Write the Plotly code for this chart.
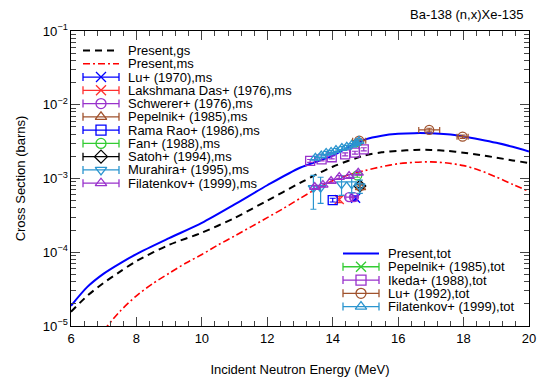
import plotly.graph_objects as go

# ---------------- evaluated curves ----------------
E_tot = [6, 6.5, 7, 7.5, 8, 9, 10, 11, 12, 13, 14, 14.5, 15, 15.5, 16, 16.5, 17, 17.5, 18, 18.5, 19, 19.5, 20]
S_tot = [1.88e-5, 3.39e-5, 5.13e-5, 7.08e-5, 9.44e-5, 1.55e-4, 2.50e-4, 4.45e-4, 8.10e-4, 1.40e-3, 2.04e-3,
         2.69e-3, 3.39e-3, 3.80e-3, 4.03e-3, 4.12e-3, 4.10e-3, 3.98e-3, 3.72e-3, 3.39e-3, 3.05e-3, 2.69e-3, 2.32e-3]

E_gs = [6, 6.5, 7, 7.5, 8, 9, 10, 11, 12, 13, 14, 15, 15.5, 16, 16.5, 17, 17.5, 18, 18.5, 19, 19.5, 20]
S_gs = [1.56e-5, 2.57e-5, 3.85e-5, 5.45e-5, 7.59e-5, 1.26e-4, 1.84e-4, 2.92e-4, 5.01e-4, 8.71e-4, 1.445e-3,
        2.065e-3, 2.265e-3, 2.37e-3, 2.44e-3, 2.44e-3, 2.37e-3, 2.24e-3, 2.09e-3, 1.92e-3, 1.76e-3, 1.62e-3]

E_ms = [7, 7.5, 8, 8.5, 9, 9.5, 10, 10.5, 11, 11.5, 12, 12.5, 13, 13.5, 14, 14.5, 15, 15.5, 16, 16.5, 17,
        17.5, 18, 18.5, 19, 19.5, 20]
S_ms = [8.71e-6, 1.585e-5, 2.57e-5, 3.76e-5, 5.19e-5, 7.08e-5, 9.33e-5, 1.259e-4, 1.66e-4, 2.21e-4, 2.95e-4,
        3.94e-4, 5.37e-4, 7.24e-4, 9.33e-4, 1.122e-3, 1.288e-3, 1.445e-3, 1.585e-3, 1.66e-3, 1.68e-3,
        1.62e-3, 1.496e-3, 1.288e-3, 1.047e-3, 8.32e-4, 6.68e-4]

# ---------------- experimental data (metastable) ----------------
lu70_E = [14.7]
lu70_S = [5.4e-4]
lu70_dS = [4e-5]

lak_E = [14.2]
lak_S = [5.2e-4]
lak_dS = [5e-5]

sch_E = [14.5, 14.65]
sch_S = [5.6e-4, 5.6e-4]
sch_dE = [0.1, 0.1]

pep_ms_E = [14.85]
pep_ms_S = [7.6e-4]
pep_ms_dS = [6e-5]

rama_E = [14.0]
rama_S = [5.1e-4]
rama_dS = [3e-5]

fan_E = [14.75]
fan_S = [1.1e-3]
fan_dS = [6e-5]

satoh_E = [14.83]
satoh_S = [7.9e-4]
satoh_dS = [4e-5]

mura_E = [13.41, 13.63, 14.27, 14.58, 14.83]
mura_S = [7.43e-4, 7.5e-4, 8.4e-4, 8.4e-4, 7.9e-4]
mura_dS = [3.6e-4, 2.9e-4, 2.5e-4, 2.0e-4, 1.6e-4]

fil_ms_E = [13.45, 13.7, 13.95, 14.2, 14.5, 14.78]
fil_ms_S = [7.67e-4, 8.17e-4, 9.25e-4, 1.047e-3, 1.08e-3, 1.19e-3]
fil_ms_dS = [4e-5, 4e-5, 5e-5, 5e-5, 5e-5, 6e-5]

# ---------------- experimental data (total) ----------------
pep_tot_E = [14.7]
pep_tot_S = [2.9e-3]
pep_tot_dS = [1.5e-4]

ike_E = [13.31, 13.66, 13.97, 14.38, 14.68, 14.95]
ike_S = [1.73e-3, 1.82e-3, 1.94e-3, 2.13e-3, 2.24e-3, 2.49e-3]
ike_dS = [8e-5, 9e-5, 9e-5, 1e-4, 1e-4, 1.2e-4]

lu92_E = [14.81, 16.95, 17.97]
lu92_S = [3.26e-3, 4.55e-3, 3.69e-3]
lu92_dE = [0.2, 0.32, 0.17]
lu92_dS = [2e-4, 2.5e-4, 2e-4]

fil_tot_E = [13.47, 13.65, 13.8, 13.95, 14.1, 14.28, 14.43, 14.58, 14.71, 14.8]
fil_tot_S = [1.90e-3, 2.05e-3, 2.22e-3, 2.29e-3, 2.43e-3, 2.59e-3, 2.68e-3, 2.85e-3, 3.03e-3, 3.22e-3]
fil_tot_dS = [1e-4, 1e-4, 1.1e-4, 1.1e-4, 1.2e-4, 1.2e-4, 1.3e-4, 1.3e-4, 1.4e-4, 1.5e-4]

# ---------------- styles ----------------
BLUE = "#0000ff"
RED = "#ff0000"
RED2 = "#ff3030"
PURPLE = "#9932cc"
BROWN = "#a0522d"
GREEN = "#33cc33"
LBLUE = "#2b95cf"
BLACK = "#000000"

curves = [
    ("Present,gs", E_gs, S_gs, BLACK, "7px,5px", 2.0),
    ("Present,ms", E_ms, S_ms, RED, "7px,3px,2px,3px", 1.6),
    ("Present,tot", E_tot, S_tot, BLUE, "solid", 2.0),
]

exps = [
    ("Lu+ (1970),ms", lu70_E, lu70_S, None, lu70_dS, BLUE, "x-thin"),
    ("Lakshmana Das+ (1976),ms", lak_E, lak_S, None, lak_dS, RED2, "x-thin"),
    ("Schwerer+ (1976),ms", sch_E, sch_S, sch_dE, None, PURPLE, "circle-open"),
    ("Pepelnik+ (1985),ms", pep_ms_E, pep_ms_S, None, pep_ms_dS, BROWN, "triangle-up-open"),
    ("Rama Rao+ (1986),ms", rama_E, rama_S, None, rama_dS, BLUE, "square-open"),
    ("Fan+ (1988),ms", fan_E, fan_S, None, fan_dS, GREEN, "circle-open"),
    ("Satoh+ (1994),ms", satoh_E, satoh_S, None, satoh_dS, BLACK, "diamond-open"),
    ("Murahira+ (1995),ms", mura_E, mura_S, None, mura_dS, LBLUE, "triangle-down-open"),
    ("Filatenkov+ (1999),ms", fil_ms_E, fil_ms_S, None, fil_ms_dS, PURPLE, "triangle-up-open"),
    ("Pepelnik+ (1985),tot", pep_tot_E, pep_tot_S, None, pep_tot_dS, GREEN, "x-thin"),
    ("Ikeda+ (1988),tot", ike_E, ike_S, None, ike_dS, PURPLE, "square-open"),
    ("Lu+ (1992),tot", lu92_E, lu92_S, lu92_dE, lu92_dS, BROWN, "circle-open"),
    ("Filatenkov+ (1999),tot", fil_tot_E, fil_tot_S, None, fil_tot_dS, LBLUE, "triangle-up-open"),
]

FONT = "Liberation Sans, Arial, sans-serif"
fig = go.Figure()

for name, ex, sy, col, dash, w in curves:
    fig.add_trace(go.Scatter(x=ex, y=sy, mode="lines", name=name, showlegend=False,
                             line=dict(color=col, dash=dash, width=w, shape="spline", smoothing=0.8)))

# draw Satoh first so that it sits underneath the other markers
order = [6] + [i for i in range(len(exps)) if i != 6]
for idx in order:
    name, ex, sy, dex, dsy, col, sym = exps[idx]
    kw = {}
    if dsy is not None:
        kw["error_y"] = dict(type="data", array=dsy, color=col, thickness=1.2, width=3)
    if dex is not None:
        kw["error_x"] = dict(type="data", array=dex, color=col, thickness=1.2, width=3)
    fig.add_trace(go.Scatter(x=ex, y=sy, mode="markers", name=name, showlegend=False,
                             marker=dict(symbol=sym, size=9, color=col, line=dict(color=col, width=1.3)),
                             **kw))

# ---------------- hand-drawn legends (figure pixel overlay axes) ----------------
L, R, T, B = 71, 529, 31, 326
annotations = []


def legend_entry(y, x0, name, col, sym=None, dash="solid", w=1.5):
    x1 = x0 + 36
    if sym is None:
        fig.add_trace(go.Scatter(x=[x0, x1], y=[y, y], mode="lines", xaxis="x2", yaxis="y2",
                                 showlegend=False, hoverinfo="skip",
                                 line=dict(color=col, dash=dash, width=w)))
    else:
        fig.add_trace(go.Scatter(x=[(x0 + x1) / 2], y=[y], mode="markers", xaxis="x2", yaxis="y2",
                                 showlegend=False, hoverinfo="skip",
                                 error_x=dict(type="constant", value=18, color=col, thickness=1.3, width=4),
                                 marker=dict(symbol=sym, size=10, color=col, line=dict(color=col, width=1.3))))
    annotations.append(dict(x=x1 + 8, y=y, xref="x2", yref="y2", text=name, showarrow=False,
                            xanchor="left", yanchor="middle", borderpad=0,
                            font=dict(size=13, family=FONT, color="black")))


curve_style = {c[0]: c for c in curves}
exp_style = {e[0]: e for e in exps}

leg1 = ["Present,gs", "Present,ms", "Lu+ (1970),ms", "Lakshmana Das+ (1976),ms", "Schwerer+ (1976),ms",
        "Pepelnik+ (1985),ms", "Rama Rao+ (1986),ms", "Fan+ (1988),ms", "Satoh+ (1994),ms",
        "Murahira+ (1995),ms", "Filatenkov+ (1999),ms"]
leg2 = ["Present,tot", "Pepelnik+ (1985),tot", "Ikeda+ (1988),tot", "Lu+ (1992),tot", "Filatenkov+ (1999),tot"]

for legend_names, x0, y0 in ((leg1, 83, 50.5), (leg2, 343, 253.5)):
    for i, nm in enumerate(legend_names):
        y = y0 + 13.27 * i
        if nm in curve_style:
            _, _, _, col, dash, w = curve_style[nm]
            legend_entry(y, x0, nm, col, None, dash, w)
        else:
            e = exp_style[nm]
            legend_entry(y, x0, nm, e[5], e[6])

annotations.append(dict(x=(525 - L) / (R - L), y=(B - 15) / (B - T), xref="paper", yref="paper",
                        text="Ba-138 (n,x)Xe-135", showarrow=False, xanchor="right", yanchor="middle",
                        font=dict(size=13, family=FONT, color="black")))

fig.update_layout(
    width=538, height=377,
    margin=dict(l=L, r=538 - R, t=T, b=377 - B, autoexpand=False),
    paper_bgcolor="white", plot_bgcolor="white",
    font=dict(family=FONT, size=13, color="black"),
    showlegend=False,
    hovermode=False,
    annotations=annotations,
    xaxis=dict(range=[6, 20], tick0=6, dtick=2, ticks="inside", ticklen=9, tickwidth=1,
               showline=True, linecolor="black", linewidth=1, mirror="allticks",
               showgrid=False, zeroline=False, tickfont=dict(size=13), automargin=False,
               minor=dict(tick0=6, dtick=0.4, ticks="inside", ticklen=5, tickwidth=1, showgrid=False),
               title=dict(text="Incident Neutron Energy (MeV)", font=dict(size=13), standoff=20)),
    yaxis=dict(type="log", range=[-5, -1], dtick=1, exponentformat="power", ticks="inside", ticklen=9,
               tickwidth=1, showline=True, linecolor="black", linewidth=1, mirror="allticks",
               showgrid=False, zeroline=False, tickfont=dict(size=10.5), automargin=False,
               minor=dict(dtick="D1", ticks="inside", ticklen=5, tickwidth=1, showgrid=False),
               title=dict(text="Cross Section (barns)", font=dict(size=13), standoff=14)),
    xaxis2=dict(overlaying="x", anchor="y2", range=[L, R], visible=False, fixedrange=True),
    yaxis2=dict(overlaying="y", anchor="x2", range=[B, T], visible=False, fixedrange=True),
)

fig.write_html("out.html", config={"displayModeBar": False},
               post_script="document.body.style.margin='0';")
